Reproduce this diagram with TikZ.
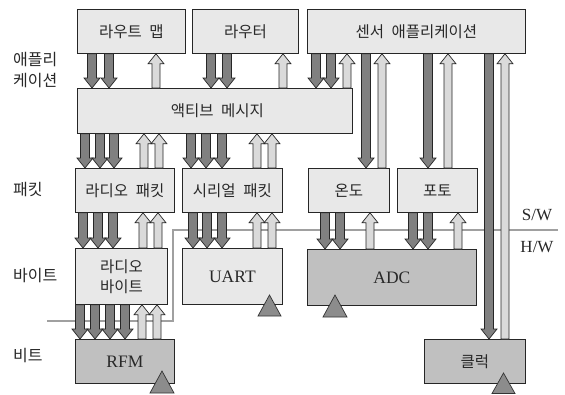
\documentclass[tikz,border=0pt]{standalone}
\usepackage{fontspec}
\setmainfont{Liberation Serif}
\newfontfamily\kr[WordSpace=2.2]{Noto Sans CJK KR}
\usetikzlibrary{calc}
\definecolor{boxlight}{RGB}{232,232,232}
\definecolor{boxhw}{RGB}{192,192,192}
\definecolor{arrdark}{RGB}{128,128,128}
\definecolor{arrlight}{RGB}{218,218,218}
\definecolor{trifill}{RGB}{140,140,140}
\definecolor{sepline}{RGB}{160,160,160}
\definecolor{txt}{RGB}{40,40,40}
\newcommand{\dnarr}[3]{%
  \path[darrow] let \p1=(#2.south), \p2=(#3.north) in
  (#1pt-4.5pt,\y1) -- (#1pt+4.5pt,\y1) -- (#1pt+4.5pt,\y2+10pt) -- (#1pt+8pt,\y2+10pt)
  -- (#1pt,\y2) -- (#1pt-8pt,\y2+10pt) -- (#1pt-4.5pt,\y2+10pt) -- cycle;}
\newcommand{\uparr}[3]{%
  \path[uarrow] let \p1=(#2.south), \p2=(#3.north) in
  (#1pt-4pt,\y2) -- (#1pt+4pt,\y2) -- (#1pt+4pt,\y1-10pt) -- (#1pt+8pt,\y1-10pt)
  -- (#1pt,\y1) -- (#1pt-8pt,\y1-10pt) -- (#1pt-4pt,\y1-10pt) -- cycle;}
\begin{document}
\begin{tikzpicture}[x=1pt,y=-1pt,
  box/.style={draw=black!85, fill=boxlight, line width=0.8pt, inner sep=0pt,
    anchor=north west, text=txt, font=\kr\fontsize{15.5}{20}\selectfont, align=center},
  hwbox/.style={box, fill=boxhw},
  latin/.style={font=\fontsize{17.5}{20}\selectfont},
  lbl/.style={anchor=west, inner sep=0pt, text=txt, align=left, font=\kr\fontsize{16}{21}\selectfont},
  swlbl/.style={inner sep=0pt, text=txt, font=\fontsize{17}{20}\selectfont},
  darrow/.style={draw=black!85, fill=arrdark, line width=0.7pt, line join=miter},
  uarrow/.style={draw=black!85, fill=arrlight, line width=0.7pt, line join=miter},
  tri/.style={draw=black!80, fill=trifill, line width=0.7pt},
  sep/.style={draw=sepline, line width=2pt}]
\useasboundingbox (0,0) rectangle (565,394);
\fill[white] (0,0) rectangle (565,394);
% S/W - H/W separator
\coordinate (s1) at (47,321);
\coordinate (s2) at (173,321);
\coordinate (s3) at (173,230);
\coordinate (s4) at (558,230);
\draw[sep] (s1) -- (s2) -- (s3) -- (s4);
% boxes
\node[box, minimum width=108pt, minimum height=44pt] (rm) at (77,9) {라우트 맵};
\node[box, minimum width=106pt, minimum height=44pt] (rt) at (192,9) {라우터};
\node[box, minimum width=218pt, minimum height=44pt] (sa) at (307,9) {센서 애플리케이션};
\node[box, minimum width=275pt, minimum height=45pt] (am) at (77,88) {\hspace*{5pt}액티브 메시지};
\node[box, minimum width=99pt, minimum height=44pt] (rp) at (75,168) {라디오 패킷};
\node[box, minimum width=100pt, minimum height=44pt] (sp) at (182,168) {시리얼 패킷};
\node[box, minimum width=81pt, minimum height=44pt] (on) at (308,168) {온도};
\node[box, minimum width=80pt, minimum height=44pt] (ph) at (397,168) {포토};
\node[box, minimum width=92pt, minimum height=56pt] (rb) at (75,248) {라디오\\바이트};
\node[box, latin, minimum width=100pt, minimum height=56pt] (ua) at (182,248) {UART};
\node[hwbox, latin, minimum width=169pt, minimum height=56pt] (adc) at (307,249) {ADC};
\node[hwbox, latin, minimum width=99pt, minimum height=44pt] (rfm) at (75,339) {RFM};
\node[hwbox, minimum width=101pt, minimum height=44pt] (clk) at (424,339) {클럭};
% side labels
\node[lbl] (lapp) at (13,70) {애플리\\케이션};
\node[lbl] (lpkt) at (13,190) {패킷};
\node[lbl] (lbyte) at (13,276) {바이트};
\node[lbl] (lbit) at (13,356) {비트};
\node[swlbl] (sw) at (537,215) {S/W};
\node[swlbl] (hw) at (537,247) {H/W};
% application -> active message
\dnarr{92}{rm}{am}\dnarr{109}{rm}{am}\uparr{156}{rm}{am}
\dnarr{211}{rt}{am}\dnarr{227}{rt}{am}\uparr{283}{rt}{am}
\dnarr{316}{sa}{am}\dnarr{331}{sa}{am}\uparr{347}{sa}{am}
% active message -> packets
\dnarr{85}{am}{rp}\dnarr{100}{am}{rp}\dnarr{114}{am}{rp}\uparr{144}{am}{rp}\uparr{159}{am}{rp}
\dnarr{191}{am}{sp}\dnarr{206}{am}{sp}\dnarr{222}{am}{sp}\uparr{257}{am}{sp}\uparr{272}{am}{sp}
% sensor app -> temp / photo / clock
\dnarr{366}{sa}{on}\uparr{382}{sa}{on}
\dnarr{428}{sa}{ph}\uparr{448}{sa}{ph}
\dnarr{489}{sa}{clk}\uparr{505}{sa}{clk}
% packets -> bytes
\dnarr{83}{rp}{rb}\dnarr{98}{rp}{rb}\dnarr{113}{rp}{rb}\uparr{143}{rp}{rb}\uparr{158}{rp}{rb}
\dnarr{193}{sp}{ua}\dnarr{207}{sp}{ua}\dnarr{222}{sp}{ua}\uparr{257}{sp}{ua}\uparr{272}{sp}{ua}
\dnarr{325}{on}{adc}\dnarr{340}{on}{adc}\uparr{370}{on}{adc}
\dnarr{413}{ph}{adc}\dnarr{428}{ph}{adc}\uparr{458}{ph}{adc}
% bytes -> bits
\dnarr{80}{rb}{rfm}\dnarr{95}{rb}{rfm}\dnarr{110}{rb}{rfm}\dnarr{125}{rb}{rfm}
\uparr{142}{rb}{rfm}\uparr{157}{rb}{rfm}
% clock triangles
\path[tri] (258,316) -- (281,316) -- (269.5,295) -- cycle;
\path[tri] (150,393) -- (174,393) -- (162,371) -- cycle;
\path[tri] (323,317) -- (347,317) -- (335,295) -- cycle;
\path[tri] (492,393.5) -- (515,393.5) -- (503.5,373) -- cycle;
\end{tikzpicture}
\end{document}
